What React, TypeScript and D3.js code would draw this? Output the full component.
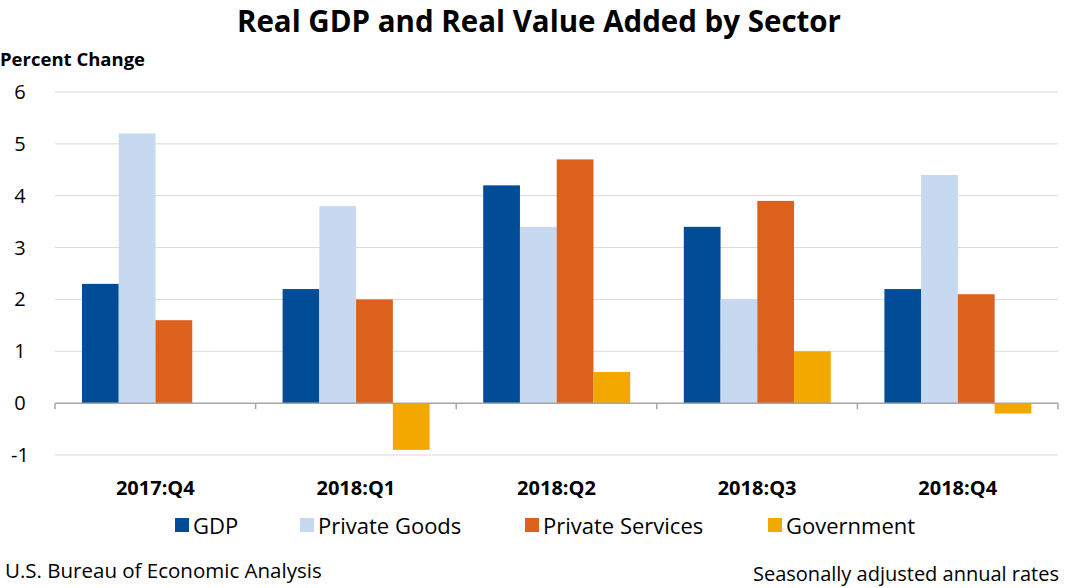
import React, { useEffect, useRef } from "react";
import * as d3 from "d3";

const quarters = ["2017:Q4", "2018:Q1", "2018:Q2", "2018:Q3", "2018:Q4"];
const seriesNames = ["GDP", "Private Goods", "Private Services", "Government"];
const colors = ["#004C97", "#C6D9F0", "#DC611C", "#F3A800"];
const gdp = [2.3, 2.2, 4.2, 3.4, 2.2];
const privateGoods = [5.2, 3.8, 3.4, 2.0, 4.4];
const privateServices = [1.6, 2.0, 4.7, 3.9, 2.1];
const government = [0, -0.9, 0.6, 1.0, -0.2];
const yTicks = [-1, 0, 1, 2, 3, 4, 5, 6];

export default function App() {
	const svgRef = useRef(null);

	useEffect(() => {
		const W = 1065, H = 588;
		const svg = d3.select(svgRef.current).attr("width", W).attr("height", H);
		const font = "'Open Sans', 'Liberation Sans', sans-serif";
		const values = [gdp, privateGoods, privateServices, government];

		const x = d3.scaleBand().domain(quarters).range([55, 1058]).padding(0);
		const inner = d3.scaleBand().domain(seriesNames).range([27, 174]).padding(0);
		const y = d3.scaleLinear().domain([-1, 6]).range([455, 92]);

		// Title
		svg.append("text").attr("x", 539).attr("y", 32).attr("text-anchor", "middle")
			.attr("font-family", font).attr("font-weight", "bold").attr("font-size", 29.5)
			.text("Real GDP and Real Value Added by Sector");
		svg.append("text").attr("x", 0).attr("y", 66).attr("font-family", font)
			.attr("font-weight", "bold").attr("font-size", 18.5).text("Percent Change");

		// Gridlines
		svg.append("g").selectAll("line").data(yTicks.filter((d) => d !== 0)).join("line")
			.attr("x1", 55).attr("x2", 1058).attr("y1", (d) => y(d)).attr("y2", (d) => y(d))
			.attr("stroke", "#d9d9d9");
		svg.append("g").selectAll("text").data(yTicks).join("text")
			.attr("x", 20).attr("y", (d) => y(d) + 7).attr("text-anchor", "middle")
			.attr("font-family", font).attr("font-size", 20).text((d) => d);

		// Bars
		values.forEach((vals, si) => {
			svg.append("g").selectAll("rect").data(vals).join("rect")
				.attr("x", (d, i) => x(quarters[i]) + inner(seriesNames[si]))
				.attr("width", inner.bandwidth())
				.attr("y", (d) => y(Math.max(0, d)))
				.attr("height", (d) => Math.abs(y(d) - y(0)))
				.attr("fill", colors[si]);
		});

		// Zero axis with ticks
		svg.append("line").attr("x1", 55).attr("x2", 1058).attr("y1", y(0)).attr("y2", y(0))
			.attr("stroke", "#a6a6a6").attr("stroke-width", 1.5);
		const bounds = quarters.map((q) => x(q)).concat([1058]);
		svg.append("g").selectAll("line").data(bounds).join("line")
			.attr("x1", (d) => d).attr("x2", (d) => d).attr("y1", y(0)).attr("y2", y(0) + 6)
			.attr("stroke", "#a6a6a6").attr("stroke-width", 1.5);

		// Category labels
		svg.append("g").selectAll("text").data(quarters).join("text")
			.attr("x", (d) => x(d) + x.bandwidth() / 2).attr("y", 495).attr("text-anchor", "middle")
			.attr("font-family", font).attr("font-weight", "bold").attr("font-size", 20).text((d) => d);

		// Legend
		const legendX = [175, 300, 525, 768];
		seriesNames.forEach((s, i) => {
			svg.append("rect").attr("x", legendX[i]).attr("y", 518).attr("width", 14).attr("height", 14)
				.attr("fill", colors[i]);
			svg.append("text").attr("x", legendX[i] + 18).attr("y", 534)
				.attr("font-family", font).attr("font-size", 22).text(s);
		});

		// Footer
		svg.append("text").attr("x", 5).attr("y", 578).attr("font-family", font).attr("font-size", 20.5)
			.text("U.S. Bureau of Economic Analysis");
		svg.append("text").attr("x", 1059).attr("y", 581).attr("text-anchor", "end")
			.attr("font-family", font).attr("font-size", 20).text("Seasonally adjusted annual rates");

		return () => {
			d3.select(svgRef.current).selectAll("*").remove();
		};
	}, []);

	return (
		<div style={{ position: "absolute", left: 0, top: 0, background: "#fff" }}>
			<svg ref={svgRef} style={{ display: "block" }}></svg>
		</div>
	);
}
